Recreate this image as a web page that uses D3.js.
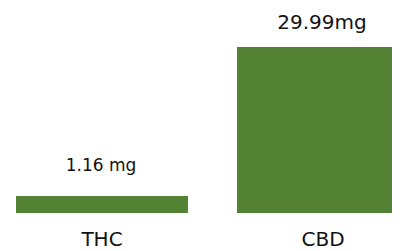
<!DOCTYPE html>
<html>
<head>
<meta charset="utf-8">
<script src="https://cdn.jsdelivr.net/npm/d3@7"></script>
<style>
  html, body { margin: 0; padding: 0; background: #fff; }
  svg { display: block; }
  text { font-family: 'DejaVu Sans', sans-serif; fill: #111; }
</style>
</head>
<body>
<svg class="chart" width="405" height="251"></svg>
<script>
// data
var categories = ['THC', 'CBD'];
var values = [1.16, 29.99];
var valueLabels = ['1.16 mg', '29.99mg'];

var barColor = '#548235';

// per-bar tweaks to follow the original layout
var barRight = { THC: 87, CBD: 70 };
var labelSize = { THC: 17, CBD: 20 };
var labelGap = { THC: 25, CBD: 18 };

var svg = d3.select('svg.chart');

var x = d3.scalePoint()
  .domain(categories)
  .range([101, 322]);

// bars do not start at zero in the source, so the floor sits below 0
var y = d3.scaleLinear()
  .domain([-2.13, 29.99])
  .range([213, 47]);

var rows = categories.map(function(c, i) {
  return { cat: c, value: values[i], label: valueLabels[i] };
});

svg.append('g').selectAll('rect')
  .data(rows)
  .enter().append('rect')
  .attr('x', function(d) { return x(d.cat) - 85; })
  .attr('y', function(d) { return y(d.value); })
  .attr('width', function(d) { return 85 + barRight[d.cat]; })
  .attr('height', function(d) { return y(y.domain()[0]) - y(d.value); })
  .style('fill', barColor);

svg.append('g').selectAll('text')
  .data(rows)
  .enter().append('text')
  .attr('x', function(d) { return x(d.cat); })
  .attr('y', function(d) { return y(d.value) - labelGap[d.cat]; })
  .attr('text-anchor', 'middle')
  .style('font-size', function(d) { return labelSize[d.cat] + 'px'; })
  .text(function(d) { return d.label; });

svg.append('g').selectAll('text')
  .data(rows)
  .enter().append('text')
  .attr('x', function(d) { return x(d.cat) + 1; })
  .attr('y', 246)
  .attr('text-anchor', 'middle')
  .style('font-size', '20px')
  .text(function(d) { return d.cat; });
</script>
</body>
</html>
